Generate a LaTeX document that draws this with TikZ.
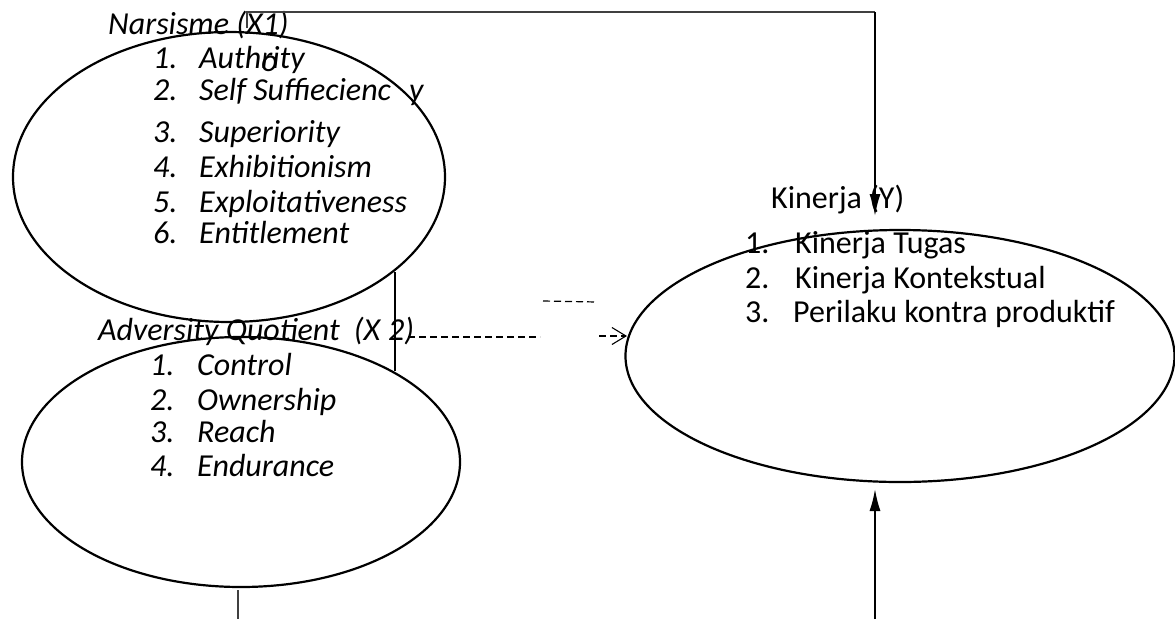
\documentclass[tikz,border=0pt]{standalone}
\usepackage{fontspec}
\setmainfont{Carlito}
\usetikzlibrary{shapes.geometric,arrows.meta}
\begin{document}
\begin{tikzpicture}[x=1pt,y=-1pt,
  oval/.style={draw, ellipse, line width=2.2pt, inner sep=0pt},
  lbl/.style={anchor=base west, inner sep=0pt, font=\fontsize{32}{38}\selectfont},
  ilbl/.style={anchor=base west, inner sep=0pt, font=\fontsize{32}{38}\selectfont\itshape},
  thinln/.style={line width=1.1pt},
  dsh/.style={line width=1.2pt, dash pattern=on 7pt off 4pt},
  solidarrow/.style={line width=1.8pt, -{Latex[length=22pt,width=11pt]}},
]
\useasboundingbox (0,0) rectangle (1175,619);

% ellipses
\node[oval, minimum width=432pt, minimum height=290pt] (x1) at (229,177) {};
\node[oval, minimum width=438pt, minimum height=250pt] (x2) at (241,462) {};
\node[oval, minimum width=549pt, minimum height=252pt] (y) at (900,356) {};

% texts X1
\node[ilbl] (t1) at (108,34) {Narsisme (X1)};
\node[ilbl] (a1) at (153,68) {\makebox[46pt][l]{1.}Auth\rlap{\raisebox{-3pt}{o}}rity};
\node[ilbl] (a2) at (153,100) {\makebox[46pt][l]{2.}Self Suffiecienc\hspace{18pt}y};
\node[ilbl] (a3) at (153,142) {\makebox[46pt][l]{3.}Superiority};
\node[ilbl] (a4) at (153,177) {\makebox[46pt][l]{4.}Exhibitionism};
\node[ilbl] (a5) at (153,212) {\makebox[46pt][l]{5.}Exploitativeness};
\node[ilbl] (a6) at (153,243) {\makebox[46pt][l]{6.}Entitlement};

% texts X2
\node[ilbl] (t2) at (98,340) {Adversity Quotient\hspace{14pt}(X\hspace{8pt}2)};
\node[ilbl] (b1) at (150,375) {\makebox[47pt][l]{1.}Control};
\node[ilbl] (b2) at (150,410) {\makebox[47pt][l]{2.}Ownership};
\node[ilbl] (b3) at (150,442) {\makebox[47pt][l]{3.}Reach};
\node[ilbl] (b4) at (150,476) {\makebox[47pt][l]{4.}Endurance};

% texts Y
\node[lbl] (t3) at (771,208) {Kinerja (Y)};
\node[lbl] (c1) at (745,253) {\makebox[50pt][l]{1.}Kinerja Tugas};
\node[lbl] (c2) at (745,288) {\makebox[50pt][l]{2.}Kinerja Kontekstual};
\node[lbl] (c3) at (745,322) {\makebox[48pt][l]{3.}Perilaku kontra produktif};

% connectors
\coordinate (tk) at (247,28);
\coordinate (tl) at (247,12);
\coordinate (tr) at (875,12);
\coordinate (ytop) at (875,216);
\draw[thinln, black!75] (tk) -- (tl) -- (tr);
\draw[solidarrow] (tr) -- (ytop);

\coordinate (v1) at (395,272);
\coordinate (v2) at (395,371);
\draw[thinln] (v1) -- (v2);

\coordinate (d1) at (408,337);
\coordinate (d2) at (540,337);
\draw[dsh] (d1) -- (d2);
\coordinate (e1) at (543,301);
\coordinate (e2) at (597,302);
\draw[dsh] (e1) -- (e2);
\coordinate (f1) at (599,336);
\coordinate (f2) at (627,336);
\draw[dsh, -{Straight Barb[length=14pt,width=17pt,line width=1.1pt]}] (f1) -- (f2);

\coordinate (g1) at (238,590);
\coordinate (g2) at (238,619);
\draw[thinln, black!75] (g1) -- (g2);

\coordinate (h1) at (875,619);
\coordinate (h2) at (875,489);
\draw[solidarrow] (h1) -- (h2);
\end{tikzpicture}
\end{document}
